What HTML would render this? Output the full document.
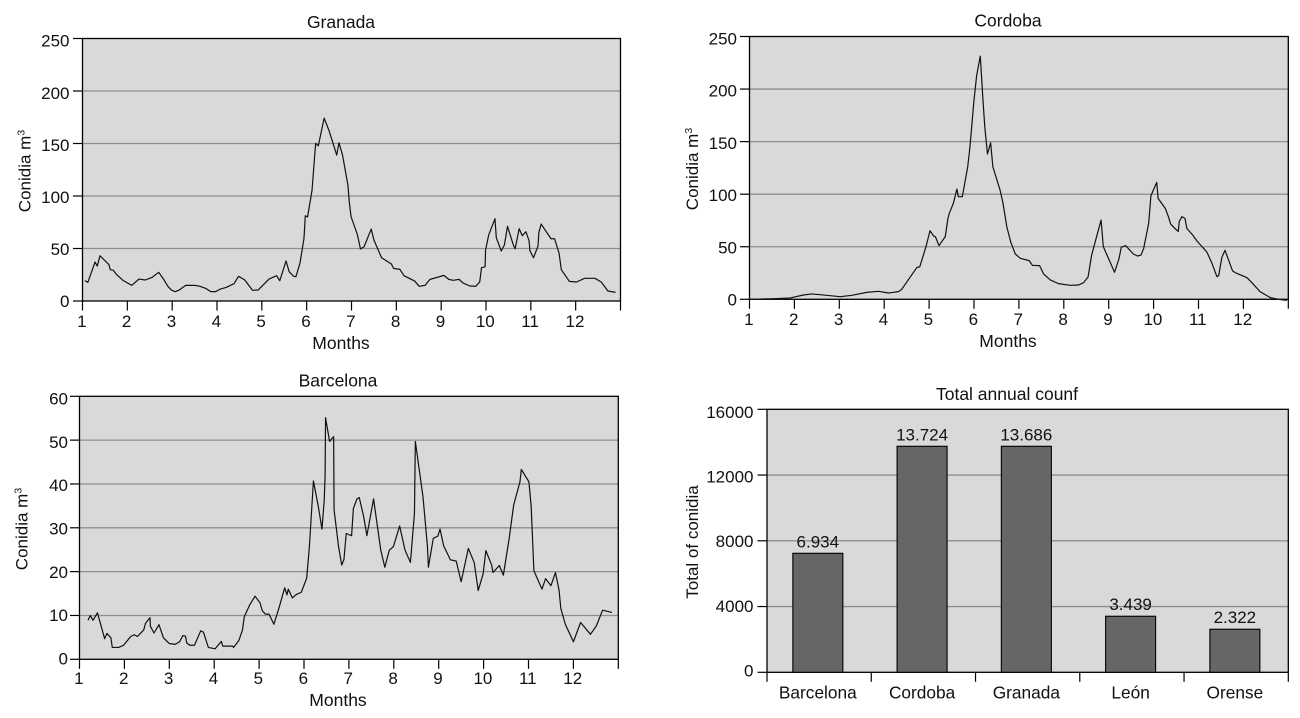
<!DOCTYPE html>
<html lang="en">
<head>
<meta charset="utf-8">
<title>Conidia charts</title>
<style>
html,body{margin:0;padding:0;background:#fff;width:1300px;height:718px;overflow:hidden}
svg{display:block}
text{font-family:"Liberation Sans",Arial,sans-serif;font-size:17px;fill:#111}
text.big{font-size:17.5px}
text.cat{font-size:17.3px}
</style>
</head>
<body>
<svg id="figure" xmlns="http://www.w3.org/2000/svg" width="1300" height="718" viewBox="0 0 1300 718"></svg>
<script>
const monthTicks = [1,2,3,4,5,6,7,8,9,10,11,12,13];
const monthLabels = ['1','2','3','4','5','6','7','8','9','10','11','12',''];

const granadaTicks = [0,50,100,150,200,250];
const cordobaTicks = [0,50,100,150,200,250];
const barcelonaTicks = [0,10,20,30,40,50,60];
const totalTicks = [0,4000,8000,12000,16000];

const granadaMonths = [1.05,1.12,1.28,1.33,1.39,1.59,1.62,1.69,1.75,1.91,2.10,2.26,2.40,2.55,2.70,2.81,2.91,2.99,3.07,3.17,3.30,3.51,3.62,3.75,3.86,3.97,4.06,4.21,4.38,4.48,4.62,4.79,4.92,5.16,5.33,5.40,5.54,5.61,5.71,5.76,5.85,5.94,5.97,6.02,6.12,6.20,6.26,6.39,6.50,6.67,6.72,6.80,6.92,6.95,6.99,7.13,7.20,7.28,7.44,7.50,7.67,7.89,7.94,8.08,8.17,8.41,8.51,8.64,8.75,8.91,9.06,9.17,9.27,9.40,9.49,9.64,9.77,9.86,9.90,9.98,9.99,10.06,10.20,10.23,10.34,10.41,10.48,10.61,10.65,10.74,10.81,10.89,10.96,10.98,11.06,11.16,11.18,11.23,11.45,11.53,11.63,11.68,11.86,12.02,12.20,12.43,12.57,12.72,12.89];
const granadaValues = [19.4,17.8,37.1,33.3,43.1,34.6,29.8,29.2,25.7,19.4,14.9,20.9,20,22.5,27.3,20.6,13.6,10.2,8.9,10.8,14.9,14.9,14,12,8.9,8.9,11.1,13,16.5,23.5,20,10.2,10.5,20.9,24.1,19.4,38.1,27.9,23.5,23.2,35.9,59.6,81.2,80,105.6,150,147.8,174.2,162.1,139,150.7,139,110.4,94.5,80.3,63.5,49.5,51.7,68.5,58.1,41.2,35.2,31.1,30.1,24.1,19,14,14.9,20.6,22.5,24.4,20.6,19.7,20.6,17.1,14.3,14,18.1,31.7,32.7,48.5,62.8,78.4,60.3,47.6,53.3,71.1,53.3,49.8,68.8,62.2,66,57.4,47.9,41.2,52.3,65.4,73.3,59.3,59.3,45.4,29.8,18.7,18.1,21.6,21.6,18.1,9.5,8.2];

const cordobaMonths = [1.00,1.53,1.91,2.20,2.39,2.72,3.02,3.28,3.61,3.87,4.10,4.32,4.39,4.73,4.79,4.93,5.02,5.10,5.14,5.22,5.36,5.42,5.45,5.54,5.62,5.65,5.74,5.86,5.91,6.00,6.06,6.14,6.20,6.24,6.30,6.37,6.42,6.58,6.64,6.73,6.82,6.92,7.03,7.23,7.30,7.46,7.55,7.70,7.88,8.14,8.33,8.44,8.54,8.62,8.83,8.88,9.13,9.23,9.28,9.38,9.55,9.64,9.72,9.78,9.89,9.94,10.07,10.10,10.26,10.33,10.38,10.48,10.55,10.57,10.63,10.70,10.74,10.87,10.96,11.19,11.30,11.41,11.45,11.52,11.59,11.76,11.85,12.08,12.19,12.37,12.60,12.78,12.97];
const cordobaValues = [0,0.6,1.3,4.1,5.1,3.8,2.5,3.8,6.6,7.6,6,7.3,9.5,30.4,30.7,50,65.2,60.2,59.6,51,59.6,77,81.8,91.3,104.9,97.6,97.6,126,145.1,189.5,213.2,231.3,189.5,164.1,138.2,148.9,126.1,103.9,92.8,69.1,54.2,43.1,39,36.8,32.3,32,24.1,18.4,14.9,13.3,13.6,15.8,21.2,42.1,75.4,50.1,25.7,38.7,49.7,51,43.1,41.2,42.1,48.5,72.2,98.5,111.2,96,86.5,78.6,71.6,67.2,64.6,73.8,78.6,77,67.5,61.2,55.8,44.7,34.2,21.5,22.5,39.9,46.6,26.9,24.7,20.6,15.8,7.3,1.6,0,-1];

const barcelonaMonths = [1.19,1.24,1.30,1.40,1.56,1.61,1.70,1.73,1.87,1.98,2.14,2.22,2.29,2.43,2.47,2.57,2.58,2.66,2.77,2.87,3.00,3.13,3.23,3.30,3.36,3.39,3.46,3.56,3.70,3.76,3.87,4.02,4.16,4.19,4.41,4.43,4.55,4.63,4.67,4.79,4.91,5.02,5.07,5.14,5.22,5.33,5.44,5.57,5.62,5.65,5.74,5.83,5.94,6.06,6.12,6.21,6.32,6.40,6.45,6.47,6.48,6.57,6.66,6.67,6.77,6.84,6.89,6.94,7.06,7.10,7.18,7.23,7.33,7.40,7.55,7.62,7.71,7.80,7.90,7.99,8.13,8.25,8.37,8.46,8.48,8.65,8.75,8.77,8.88,8.98,9.03,9.11,9.26,9.39,9.50,9.66,9.79,9.88,9.99,10.05,10.18,10.21,10.35,10.44,10.57,10.67,10.81,10.84,11.01,11.06,11.12,11.30,11.38,11.50,11.60,11.68,11.72,11.82,12.00,12.16,12.38,12.51,12.65,12.86];
const barcelonaValues = [8.9,10,8.9,10.6,4.7,5.9,4.9,2.7,2.7,3.2,5.2,5.6,5.2,6.7,8.2,9.5,7.5,6,7.9,4.9,3.6,3.4,4,5.4,5.3,3.7,3.2,3.2,6.5,6.2,2.7,2.4,4.1,3,3,2.7,4.3,6.7,9.7,12.4,14.4,12.9,11.1,10.3,10.3,8,11.6,16.3,14.7,16,14,14.8,15.3,18.5,25.7,40.7,34.8,29.7,36.3,41.7,55.1,49.7,50.8,34.1,25.7,21.5,22.8,28.7,28.2,34.4,36.6,36.9,32.5,28.2,36.6,31.4,24.9,21,24.9,25.7,30.4,24.9,22.1,33.3,49.7,37.1,25.7,21,27.6,28.1,29.7,25.9,22.7,22.4,17.7,25.3,22.1,15.7,19.5,24.8,21.5,19.8,21.4,19.2,27.6,35.2,40.5,43.3,40.5,34.8,20.2,16,18.4,16.8,19.8,15.8,11.6,8,4,8.4,5.7,7.6,11.2,10.7];

const totalCategories = ['Barcelona','Cordoba','Granada','León','Orense'];
const totalBarValues = [7240,13750,13750,3410,2620];
const totalPrintedValues = ['6.934','13.724','13.686','3.439','2.322'];

const NS = 'http://www.w3.org/2000/svg';
const figure = document.getElementById('figure');

function make(tag, attrs, parent, content) {
  const el = document.createElementNS(NS, tag);
  for (const k in attrs) el.setAttribute(k, attrs[k]);
  if (content !== undefined) el.textContent = content;
  parent.appendChild(el);
  return el;
}

function drawFrame(g, p, yTicks, slug) {
  const bg = make('rect', {x:p.left, y:p.top, width:p.right-p.left, height:p.bottom-p.top, fill:'#d9d9d9'}, g);
  
  
  const y = v => p.bottom - v / p.max * (p.bottom - p.top);
  yTicks.forEach(v => {
    if (v !== 0 && v !== p.max) {
      const grid = make('line', {x1:p.left, x2:p.right, y1:y(v), y2:y(v), stroke:'#8e8e8e', 'stroke-width':1.3}, g);
      
      
    }
    const tick = make('line', {x1:p.left-9.5, x2:p.left, y1:y(v), y2:y(v), stroke:'#000', 'stroke-width':1.2}, g);
    
    
    const drop = p.labelDrop + p.labelSkew * v / p.max;
    const label = make('text', {x:p.labelRight, y:y(v)+drop, 'text-anchor':'end'}, g, String(v));
    
    
  });
  return y;
}

function drawBorder(g, p, slug) {
  const border = make('rect', {x:p.left, y:p.top, width:p.right-p.left, height:p.bottom-p.top, fill:'none', stroke:'#000', 'stroke-width':1.3}, g);
  
  
}

function drawTexts(g, p, slug, titleText, yTitleText, xTitleText) {
  const title = make('text', {x:p.titleX, y:p.titleY, 'text-anchor':'middle', class:'big'}, g, titleText);
  
  
  const yTitle = make('text', {transform:'translate(' + p.yTitleX + ' ' + p.yTitleY + ') rotate(-90)', 'text-anchor':'middle'}, g, yTitleText);
  
  
  if (p.superscript) {
    make('tspan', {dy:-6, 'font-size':'10.5px'}, yTitle, p.superscript);
  }
  if (xTitleText) {
    const xTitle = make('text', {x:p.titleX, y:p.xTitleY, 'text-anchor':'middle', class:'big'}, g, xTitleText);
    
    
  }
}

function drawLinePanel(p, slug, titleText, yTicks, months, values) {
  const g = make('g', {}, figure);
  
  
  const y = drawFrame(g, p, yTicks, slug);
  const x = m => p.left + (m - 1) * (p.right - p.left) / 12;
  drawBorder(g, p, slug);
  monthTicks.forEach((m, i) => {
    const tick = make('line', {x1:x(m), x2:x(m), y1:p.bottom, y2:p.bottom+9.5, stroke:'#000', 'stroke-width':1.2}, g);
    
    
    if (monthLabels[i]) {
      const label = make('text', {x:x(m)-0.7, y:p.xLabelY, 'text-anchor':'middle'}, g, monthLabels[i]);
      
      
    }
  });
  const pts = months.map((m, i) => x(m).toFixed(2) + ',' + y(values[i]).toFixed(2)).join(' ');
  const line = make('polyline', {points:pts, fill:'none', stroke:'#111', 'stroke-width':1.2, 'stroke-linejoin':'round'}, g);
  
  
  drawTexts(g, p, slug, titleText, 'Conidia m', 'Months');
}

function drawBarPanel(p, slug, titleText, yTicks, cats, values, printed) {
  const g = make('g', {}, figure);
  
  
  const y = drawFrame(g, p, yTicks, slug);
  const band = (p.right - p.left) / cats.length;
  drawBorder(g, p, slug);
  for (let i = 0; i <= cats.length; i++) {
    const px = p.left + i * band;
    const tick = make('line', {x1:px, x2:px, y1:p.bottom, y2:p.bottom+9.5, stroke:'#000', 'stroke-width':1.2}, g);
    
    
  }
  cats.forEach((c, i) => {
    const cx = p.left + (i + 0.5) * band - 1.3;
    const bar = make('rect', {x:cx-25, y:y(values[i]), width:50, height:p.bottom-y(values[i]), fill:'#666666', stroke:'#000', 'stroke-width':1.1}, g);
    
    
    const val = make('text', {x:cx, y:y(values[i])-6, 'text-anchor':'middle'}, g, printed[i]);
    
    
    const label = make('text', {x:cx, y:p.xLabelY, 'text-anchor':'middle', class:'cat'}, g, c);
    
    
  });
  drawTexts(g, p, slug, titleText, 'Total of conidia', null);
}

drawLinePanel({left:82.5, right:620.5, top:38.5, bottom:301, max:250, labelRight:69.5, labelDrop:6.2, labelSkew:2, xLabelY:327, titleX:341, titleY:28, xTitleY:349, yTitleX:30.5, yTitleY:171, superscript:'3'},
  'granada', 'Granada', granadaTicks, granadaMonths, granadaValues);
drawLinePanel({left:749.5, right:1288.3, top:36.5, bottom:299.3, max:250, labelRight:737, labelDrop:6.2, labelSkew:1.8, xLabelY:325, titleX:1008, titleY:26.5, xTitleY:347, yTitleX:698, yTitleY:169, superscript:'3'},
  'cordoba', 'Cordoba', cordobaTicks, cordobaMonths, cordobaValues);
drawLinePanel({left:79.5, right:618.3, top:396.3, bottom:659.3, max:60, labelRight:68, labelDrop:5.2, labelSkew:3, xLabelY:684, titleX:338, titleY:386.5, xTitleY:706, yTitleX:27.5, yTitleY:529, superscript:'3'},
  'barcelona', 'Barcelona', barcelonaTicks, barcelonaMonths, barcelonaValues);
drawBarPanel({left:767, right:1288.3, top:409.3, bottom:672.3, max:16000, labelRight:753.5, labelDrop:4.2, labelSkew:4.4, xLabelY:698.5, titleX:1007, titleY:400, yTitleX:698, yTitleY:542},
  'total-annual', 'Total annual counf', totalTicks, totalCategories, totalBarValues, totalPrintedValues);
</script>
</body>
</html>
